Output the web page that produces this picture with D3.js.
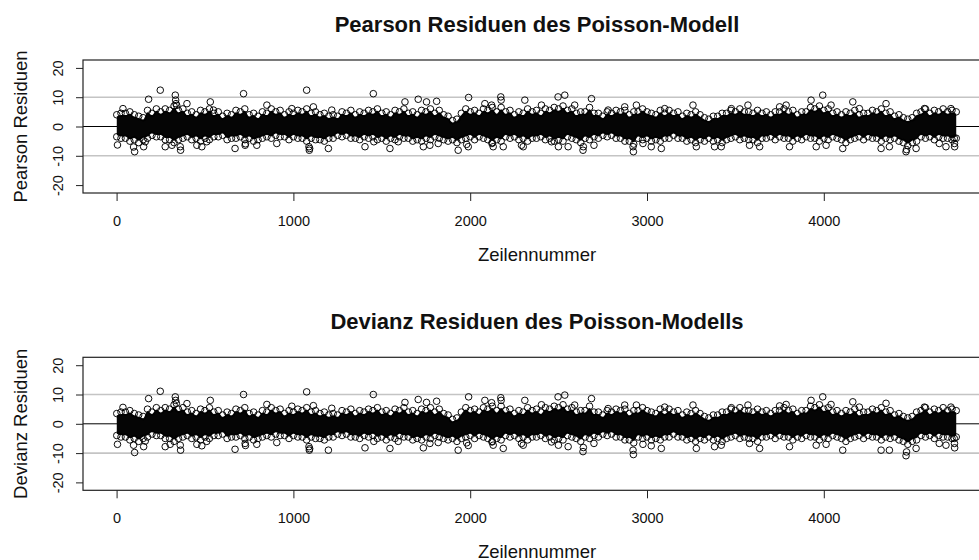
<!DOCTYPE html>
<html>
<head>
<meta charset="utf-8">
<script src="https://cdn.jsdelivr.net/npm/d3@7"></script>
<style>
  body { margin: 0; background: #fff; }
  svg { display: block; font-family: "Liberation Sans", Arial, Helvetica, sans-serif; }
</style>
</head>
<body>
<div id="chart"></div>
<script>
// Zeilen 0..4749, in Blöcken zu je 50 Zeilen.
// Hi/Lo: äussere Kante des dichten Bandes (Blockmitte), HiB/LoB: Kante am Blockanfang
var binSize = 50;
var nRows = 4750;
var xTicks = [0, 1000, 2000, 3000, 4000];
var yTicks = [-20, -10, 0, 10, 20];
var refLines = [-10, 10];

var pearsonHi = [4.5,5,3.5,5.5,6,6,7,6,5,5.5, 6,5,4.5,5.5,6,4.5,5,6,5.5,5, 5.5,6,5,4.5,4,5,5.5,5,5.5,6,
  5,5.5,6,5,5.5,6,5.5,3.5,2.5,6, 5.5,6,6.5,6.5,5.5,5,6,5.5,6,6.5, 7,6,5,6.5,4.5,5,5.5,5.5,5,6,
  4.5,5.5,5.5,5,4.5,5,3,3.5,4.5,5.5, 6,5,5.5,5,5,6,5.5,5,6.5,7, 6,5,5,5.5,4.5,5.5,6,5,4,2.5,
  4.5,6,5.5,6,5.5];
var pearsonLo = [-4,-5,-5.5,-4,-3.5,-4.5,-5.5,-4,-4.5,-5, -4.5,-3.5,-4.5,-4,-4.5,-5,-4,-4,-3.5,-4.5,
  -4,-5,-4.5,-5,-4,-3.5,-4,-4.5,-4,-4.5, -5,-4.5,-4,-5,-5,-4.5,-4,-5,-5.5,-4,
  -4.5,-4,-5.5,-5,-4,-4.5,-5,-4,-4.5,-5, -5,-4,-5.5,-4.5,-4,-3.5,-4,-5,-6,-4.5,
  -5,-5,-4,-4,-5,-5.5,-5,-5,-5.5,-4, -4.5,-4.5,-5.5,-4,-4.5,-4,-5,-4.5,-4,-5,
  -4.5,-4,-5.5,-4,-4.5,-4,-5,-4.5,-5,-6.5, -5,-4,-4.5,-4,-4.5];
var pearsonHiB = [4,4.5,4,3,4.5,5,5.5,5.5,4.5,4, 5,4.5,3.5,4,5,4,3.5,4.5,5,4, 4.5,5,4.5,4,3.5,3.5,4.5,4,4.5,5,
  4.5,4,5,4.5,4,5,4.5,4,2,4.5, 5,4.5,5.5,5,5,4,4.5,5,4.5,5.5, 6,5.5,4.5,5,4.5,3.5,4.5,5,4,5,
  5,4,4.5,4.5,3.5,4,4,2.5,3.5,4.5, 5,5,4.5,4.5,4,5,5,4,5,6, 5.5,4.5,4,4.5,4,4.5,5,4.5,3.5,3,
  3,5,4.5,5,5];
var pearsonLoB = [-3.5,-4,-4.5,-4.5,-3,-3.5,-4.5,-4.5,-3.5,-4, -4,-3.5,-3,-4,-3.5,-4,-4.5,-3.5,-3,-3.5,
  -3.5,-4,-4,-4.5,-4,-3,-3,-4,-3.5,-3.5, -4,-4,-3.5,-4,-4.5,-4,-3.5,-4.5,-4.5,-4.5,
  -3.5,-3.5,-4.5,-4.5,-3.5,-3.5,-4,-4,-3.5,-4, -4.5,-3.5,-4.5,-4,-3.5,-3,-3,-4,-5,-4,
  -4,-4.5,-4,-3,-4,-4.5,-4.5,-4,-4.5,-4.5, -3.5,-4,-4.5,-4,-3.5,-3.5,-4,-4,-3.5,-4,
  -4,-3.5,-4.5,-4.5,-3.5,-3.5,-4,-4,-4,-5.5, -5.5,-3.5,-3.5,-3.5,-4];
// einzelne Punkte ausserhalb des Bandes: [Zeile, Residuum]
var pearsonOut = [[5,-6.3],[36,6.1],[96,-7],[102,-8.6],[153,-6.9],[162,-5.2],[181,9.3],[247,12.4],
  [275,-6.9],[313,-6.4],[332,10.7],[334,9],[336,7.8],[340,7.2],[360,-6.9],[362,-8.1],[398,7.8],
  [454,-6.4],[482,-6.9],[510,-5.2],[530,8.4],[548,5.6],[670,-7.5],[718,11.2],[727,-6.4],[729,-5.9],
  [793,-6.4],[850,7.3],[906,-5.8],[991,6.1],[1075,12.4],[1088,-6.9],[1090,-8.1],[1092,-7.5],
  [1113,6.7],[1198,-7.5],[1217,5.6],[1405,-6.9],[1452,11.2],[1455,-5.2],[1546,-7.5],
  [1593,-5.2],[1631,8.4],[1706,9.3],[1735,-6.9],[1753,8.4],[1772,-6.4],[1810,8.6],[1819,-5.8],
  [1932,-8.1],[1980,-6.1],[1989,-6.9],[1991,9.9],[2083,7.8],[2121,7.3],[2123,-5.8],[2130,-6.9],
  [2173,10.1],[2175,9],[2187,-6.9],[2290,-6.4],[2300,-6.9],[2309,9],[2403,7.3],[2460,-5.2],
  [2497,10.1],[2535,10.7],[2499,-6.9],[2554,-6.9],[2591,7.3],[2638,-8.1],[2640,-6.9],[2686,9.5],
  [2700,-6.4],[2780,5.6],[2874,6.7],[2921,-6.9],[2923,-8.6],[2940,7.3],[2977,-5.8],[3024,-6.9],
  [3081,-7.5],[3100,6.1],[3260,7.3],[3279,-6.9],[3382,-6.9],[3420,-6.9],[3477,6.1],[3571,7.3],
  [3580,-6.4],[3637,-6.9],[3750,6.7],[3787,7.3],[3806,-6.9],[3928,9],[3994,10.7],[4041,7.3],
  [3957,-6.9],[4013,-6.4],[4107,-7.5],[4164,8.4],[4201,6.1],[4324,-7.5],[4352,7.8],[4371,-6.9],
  [4465,-8.6],[4468,-7.9],[4522,-7.5],[4569,6.1],[4653,-5.8],[4691,-6.9],[4719,6.1],
  [4738,-4],[4739,-5.8],[4740,-6.9]];

var devianzHi = [4,4.5,3,5,5.5,5.5,6.5,5.5,4.5,5, 5.5,4.5,4,5,5.5,4,4.5,5.5,5,4.5, 5,5.5,4.5,4,3.5,4.5,5,4.5,5,5.5,
  4.5,5,5.5,4.5,5,5.5,5,3,2,5.5, 5,5.5,6,6,5,4.5,5.5,5,5.5,6, 6.5,5.5,4.5,6,4,4.5,5,5,4.5,5.5,
  4,5,5,4.5,4,4.5,2.5,3,4,5, 5.5,4.5,5,4.5,4.5,5.5,5,4.5,6,6.5, 5.5,4.5,4.5,5,4,5,5.5,4.5,3.5,2,
  4,5.5,5,5.5,5];
var devianzLo = [-4.5,-5.5,-6,-4.5,-4,-5,-6,-4.5,-5,-5.5, -5,-4,-5,-4.5,-5,-5.5,-4.5,-4.5,-4,-5,
  -4.5,-5.5,-5,-5.5,-4.5,-4,-4.5,-5,-4.5,-5, -5.5,-5,-4.5,-5.5,-5.5,-5,-4.5,-5.5,-6,-4.5,
  -5,-4.5,-6,-5.5,-4.5,-5,-5.5,-4.5,-5,-5.5, -5.5,-4.5,-6,-5,-4.5,-4,-4.5,-5.5,-6.5,-5,
  -5.5,-5.5,-4.5,-4.5,-5.5,-6,-5.5,-5.5,-6,-4.5, -5,-5,-6,-4.5,-5,-4.5,-5.5,-5,-4.5,-5.5,
  -5,-4.5,-6,-4.5,-5,-4.5,-5.5,-5,-5.5,-7, -5.5,-4.5,-5,-4.5,-5];
var devianzHiB = [3.5,4,3.5,2.5,4,4.5,5,5,4,3.5, 4.5,4,3,3.5,4.5,3.5,3,4,4.5,3.5, 4,4.5,4,3.5,3,3,4,3.5,4,4.5,
  4,3.5,4.5,4,3.5,4.5,4,3.5,1.5,4, 4.5,4,5,4.5,4.5,3.5,4,4.5,4,5, 5.5,5,4,4.5,4,3,4,4.5,3.5,4.5,
  4.5,3.5,4,4,3,3.5,3.5,2,3,4, 4.5,4.5,4,4,3.5,4.5,4.5,3.5,4.5,5.5, 5,4,3.5,4,3.5,4,4.5,4,3,2.5,
  2.5,4.5,4,4.5,4.5];
var devianzLoB = [-4,-4.5,-5,-5,-3.5,-4,-5,-5,-4,-4.5, -4.5,-4,-3.5,-4.5,-4,-4.5,-5,-4,-3.5,-4,
  -4,-4.5,-4.5,-5,-4.5,-3.5,-3.5,-4.5,-4,-4, -4.5,-4.5,-4,-4.5,-5,-4.5,-4,-5,-5,-5,
  -4,-4,-5,-5,-4,-4,-4.5,-4.5,-4,-4.5, -5,-4,-5,-4.5,-4,-3.5,-3.5,-4.5,-5.5,-4.5,
  -4.5,-5,-4.5,-3.5,-4.5,-5,-5,-4.5,-5,-5, -4,-4.5,-5,-4.5,-4,-4,-4.5,-4.5,-4,-4.5,
  -4.5,-4,-5,-5,-4,-4,-4.5,-4.5,-4.5,-6, -6,-4,-4,-4,-4.5];
var devianzOut = [[5,-7],[36,5.6],[96,-7.3],[102,-9.8],[153,-7.8],[162,-5.9],[181,8.6],[247,11.1],
  [275,-7.8],[303,-7],[332,9.2],[334,8],[338,7],[360,-7.3],[362,-9],[398,6.9],[454,-7],[482,-7.5],
  [510,-6],[530,8],[670,-8.7],[718,10],[727,-6.7],[729,-7.4],[793,-7],[850,6.6],[906,-6.4],
  [991,6],[1075,10.9],[1088,-7.8],[1090,-9],[1092,-8.5],[1113,6.2],[1198,-9],[1217,5.3],
  [1405,-8.2],[1452,10],[1455,-6],[1546,-8.4],[1593,-6],[1631,7.3],[1706,8.3],[1735,-8.2],
  [1753,7.3],[1772,-6.7],[1810,7.7],[1819,-6.4],[1932,-9],[1980,-6.5],[1989,-7.4],[1991,9.2],
  [2083,8],[2121,7.2],[2123,-6.2],[2130,-7.3],[2173,8.9],[2175,8],[2187,-8.4],[2290,-6.7],
  [2300,-7.3],[2309,8],[2403,6.5],[2460,-6.2],[2497,9.2],[2535,9.8],[2499,-7.3],[2554,-7.8],
  [2591,6.4],[2638,-9.5],[2640,-8.1],[2686,8.6],[2700,-6.7],[2780,5.2],[2874,6.4],[2921,-9],
  [2923,-10.5],[2940,6.4],[2977,-7],[3024,-7.5],[3081,-8.4],[3100,5.7],[3260,6.4],[3279,-8.4],
  [3382,-7.8],[3420,-7.3],[3477,5.5],[3571,6.4],[3580,-6.7],[3637,-8.4],[3750,6.1],[3787,6.6],
  [3806,-7.8],[3928,8],[3994,9.2],[4041,6.6],[3957,-7.3],[4013,-7],[4107,-9],[4164,7.5],
  [4201,5.7],[4324,-9],[4352,7],[4371,-9],[4465,-10.9],[4468,-9.6],[4522,-8.4],[4569,5.7],
  [4653,-6.7],[4691,-7.3],[4719,5.7],[4738,-5],[4739,-6.7],[4740,-8.2]];

var width = 979, height = 560;
var svg = d3.select("#chart").append("svg")
  .attr("width", width)
  .attr("height", height);

var x = d3.scaleLinear().domain([-190, 4940]).range([83, 990]);
var rFmt = function (d) { return String(d); };   // R schreibt "-20", kein Unicode-Minus

function panel(p) {
  var y = d3.scaleLinear().domain([-22.7, 22.7]).range([p.bottom, p.top]);
  var g = svg.append("g");

  var clipId = "clip" + p.id;
  svg.append("clipPath").attr("id", clipId)
    .append("rect")
    .attr("x", x(-190)).attr("y", p.top)
    .attr("width", x(4940) - x(-190)).attr("height", p.bottom - p.top);

  var plot = g.append("g").attr("clip-path", "url(#" + clipId + ")");

  // Referenzlinien
  plot.selectAll("line.ref")
    .data(refLines)
    .enter()
    .append("line")
    .attr("x1", x(-190)).attr("x2", x(4940))
    .attr("y1", function (d) { return y(d); })
    .attr("y2", function (d) { return y(d); })
    .attr("stroke", "#c4c4c4")
    .attr("stroke-width", 1.6);
  plot.append("line")
    .attr("x1", x(-190)).attr("x2", x(4940))
    .attr("y1", y(0)).attr("y2", y(0))
    .attr("stroke", "#000")
    .attr("stroke-width", 1);

  // Kantenpunkte nach Zeile sortiert (Blockanfang und Blockmitte)
  var edge = [];
  p.hi.forEach(function (h, i) {
    edge.push({row: Math.max(1, i * binSize), hi: p.hiB[i], lo: p.loB[i]});
    edge.push({row: Math.min(nRows - 1, i * binSize + binSize / 2), hi: h, lo: p.lo[i]});
  });
  edge.push({row: nRows - 1, hi: p.hiB[p.hiB.length - 1], lo: p.loB[p.loB.length - 1]});

  // dichter Kern des Bandes, leicht nach innen versetzt, damit die Kreise am Rand sichtbar bleiben
  var inset = 1.8;
  var area = d3.area()
    .x(function (d) { return x(d.row); })
    .y0(function (d) { return y(d.lo) - inset; })
    .y1(function (d) { return y(d.hi) + inset; })
    .curve(d3.curveMonotoneX);
  plot.append("path")
    .datum(edge)
    .attr("d", area)
    .attr("fill", "#050505");

  var pts = [];
  edge.forEach(function (b) {
    pts.push([b.row, b.hi]);
    pts.push([b.row, b.lo]);
  });
  pts = pts.concat(p.out);

  plot.append("g")
    .selectAll("circle")
    .data(pts)
    .enter()
    .append("circle")
    .attr("cx", function (d) { return x(d[0]); })
    .attr("cy", function (d) { return y(d[1]); })
    .attr("r", 3.3)
    .attr("fill", "none")
    .attr("stroke", "#000")
    .attr("stroke-width", 0.95);

  // Rahmen
  g.append("rect")
    .attr("x", x(-190)).attr("y", p.top)
    .attr("width", x(4940) - x(-190)).attr("height", p.bottom - p.top)
    .attr("fill", "none")
    .attr("stroke", "#222")
    .attr("stroke-width", 1.2);

  // Achsen
  var ax = g.append("g")
    .attr("transform", "translate(0," + p.bottom + ")")
    .call(d3.axisBottom(x).tickValues(xTicks).tickSize(8).tickFormat(rFmt));
  ax.select(".domain").remove();
  ax.selectAll("line").attr("stroke", "#222");
  ax.selectAll("text")
    .attr("y", 33).attr("dy", 0)
    .attr("fill", "#111")
    .style("font-size", "14.5px")
    .style("font-family", "Liberation Sans, Arial, sans-serif");

  var ay = g.append("g")
    .attr("transform", "translate(" + x(-190) + ",0)")
    .call(d3.axisLeft(y).tickValues(yTicks).tickSize(7).tickFormat(rFmt));
  ay.select(".domain").remove();
  ay.selectAll("line").attr("stroke", "#222");
  ay.selectAll("text")
    .attr("x", null).attr("dy", 0)
    .attr("transform", "translate(-20,0) rotate(-90)")
    .style("text-anchor", "middle")
    .attr("fill", "#111")
    .style("font-size", "14.5px")
    .style("font-family", "Liberation Sans, Arial, sans-serif");

  // Beschriftungen
  svg.append("text")
    .attr("x", 537).attr("y", p.titleY)
    .attr("text-anchor", "middle")
    .style("font-size", "22px")
    .style("font-weight", "bold")
    .attr("fill", "#111")
    .text(p.title);
  svg.append("text")
    .attr("x", 537).attr("y", p.xlabY)
    .attr("text-anchor", "middle")
    .style("font-size", "18.5px")
    .attr("fill", "#111")
    .text("Zeilennummer");
  svg.append("text")
    .attr("transform", "translate(26.5," + y(0) + ") rotate(-90)")
    .attr("text-anchor", "middle")
    .style("font-size", "18.5px")
    .attr("fill", "#111")
    .text(p.ylab);
}

panel({id: 1, top: 60, bottom: 193, titleY: 32, xlabY: 261,
  title: "Pearson Residuen des Poisson-Modell", ylab: "Pearson Residuen",
  hi: pearsonHi, lo: pearsonLo, hiB: pearsonHiB, loB: pearsonLoB, out: pearsonOut});
panel({id: 2, top: 357.3, bottom: 490.3, titleY: 329, xlabY: 557.5,
  title: "Devianz Residuen des Poisson-Modells", ylab: "Devianz Residuen",
  hi: devianzHi, lo: devianzLo, hiB: devianzHiB, loB: devianzLoB, out: devianzOut});
</script>
</body>
</html>
